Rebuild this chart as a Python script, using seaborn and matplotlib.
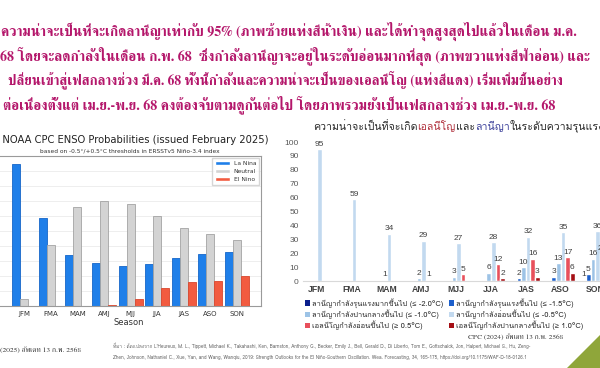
import numpy as np
import pandas as pd
import matplotlib
matplotlib.use("Agg")
import matplotlib.pyplot as plt
import seaborn as sns
from matplotlib import font_manager as fm
from matplotlib.ft2font import FT2Font
from matplotlib.patches import Polygon, Patch

# ---------------- data ----------------
seasons = ["JFM", "FMA", "MAM", "AMJ", "MJJ", "JJA", "JAS", "ASO", "SON"]

# left chart: official NOAA CPC ENSO probabilities (%)
noaa_categories = ["La Nina", "Neutral", "El Nino"]
noaa_la_nina = [95, 59, 34, 29, 27, 28, 32, 35, 36]
noaa_neutral = [5, 41, 66, 70, 68, 60, 52, 48, 44]
noaa_el_nino = [0, 0, 0, 1, 5, 12, 16, 17, 20]

# right chart: strength probabilities (%)
strength_labels = [
    "ลานีญากำลังรุนแรงมากขึ้นไป (≤ -2.0°C)",
    "ลานีญากำลังรุนแรงขึ้นไป (≤ -1.5°C)",
    "ลานีญากำลังปานกลางขึ้นไป (≤ -1.0°C)",
    "ลานีญากำลังอ่อนขึ้นไป (≤ -0.5°C)",
    "เอลนีโญกำลังอ่อนขึ้นไป (≥ 0.5°C)",
    "เอลนีโญกำลังปานกลางขึ้นไป (≥ 1.0°C)",
]
lanina_very_strong = [0, 0, 0, 0, 0, 0, 0, 0, 1]
lanina_strong = [0, 0, 0, 0, 0, 0.4, 2, 3, 5]
lanina_moderate = [0, 0, 1, 2, 3, 6, 10, 13, 16]
lanina_weak = [95, 59, 34, 29, 27, 28, 32, 35, 36]
elnino_weak = [0, 0, 0, 1, 5, 12, 16, 17, 20]
elnino_moderate = [0, 0, 0, 0, 0, 2, 3, 6, 8]

yticks_right = [0, 10, 20, 30, 40, 50, 60, 70, 80, 90, 100]

top_lines = [
    "ความน่าจะเป็นที่จะเกิดลานีญาเท่ากับ 95% (ภาพซ้ายแท่งสีน้ำเงิน) และได้ทำจุดสูงสุดไปแล้วในเดือน ม.ค.",
    "68 โดยจะลดกำลังในเดือน ก.พ. 68  ซึ่งกำลังลานีญาจะอยู่ในระดับอ่อนมากที่สุด (ภาพขวาแท่งสีฟ้าอ่อน) และ",
    "ปลี่ยนเข้าสู่เฟสกลางช่วง มี.ค. 68 ทั้งนี้กำลังและความน่าจะเป็นของเอลนีโญ (แท่งสีแดง) เริ่มเพิ่มขึ้นอย่าง",
    "ต่อเนื่องตั้งแต่ เม.ย.-พ.ย. 68 คงต้องจับตามดูกันต่อไป โดยภาพรวมยังเป็นเฟสกลางช่วง เม.ย.-พ.ย. 68",
]

# ---------------- fonts ----------------
def thai_families():
    names = []
    for f in fm.fontManager.ttflist:
        if f.name in names:
            continue
        try:
            if 0x0E01 in FT2Font(f.fname).get_charmap():
                names.append(f.name)
        except Exception:
            pass
    return names

thai = thai_families()
serif_pick = next((n for n in thai if "Serif" in n or n in ("Norasi", "Kinnari", "Laksaman")),
                  thai[0] if thai else "DejaVu Serif")
sans_pick = next((n for n in thai if "Sans" in n or n in ("Loma", "Garuda", "Waree", "Umpush")),
                 thai[0] if thai else "DejaVu Sans")
THAI_SERIF = [serif_pick, "DejaVu Serif"]
THAI_SANS = [sans_pick, "Liberation Sans", "DejaVu Sans"]

sns.set_theme(style="white")
plt.rcParams["font.family"] = ["DejaVu Sans"]

W, H = 600, 368
fig = plt.figure(figsize=(6, 3.68), dpi=100)
fig.patch.set_facecolor("white")
renderer = fig.canvas.get_renderer()

def fx(x):
    return x / W

def fy(y):
    return 1 - y / H

# ---------------- top paragraph ----------------
top_x = [1, 0, 8, 3]
top_y = [31, 56, 80, 105]
top_end = [575, 590, 565, 553]
for txt, x, y, xe in zip(top_lines, top_x, top_y, top_end):
    t = fig.text(fx(x), fy(y), txt, ha="left", va="center", fontsize=10,
                 fontweight="bold", color="#B4176B", family=THAI_SERIF)
    w = t.get_window_extent(renderer=renderer).width
    t.set_fontsize(min(11, 10 * (xe - x) / w))

# ---------------- left chart ----------------
dfL = pd.DataFrame({
    "season": seasons * 3,
    "category": [c for c in noaa_categories for _ in seasons],
    "prob": noaa_la_nina + noaa_neutral + noaa_el_nino,
})
pal_left = {"La Nina": "#1F7FE9", "Neutral": "#D3D3D3", "El Nino": "#F25B40"}
edge_left = ["#1666C8", "#A3A3A3", "#D9472E"]

ax1 = fig.add_axes([fx(-2.6), fy(306), (261 + 2.6) / W, (306 - 156) / H])
sns.barplot(data=dfL, x="season", y="prob", hue="category", palette=pal_left,
            hue_order=noaa_categories, order=seasons, width=0.9, saturation=1,
            ax=ax1)
for cont, ec in zip(ax1.containers, edge_left):
    for p in cont:
        p.set_edgecolor(ec)
        p.set_linewidth(0.6)
ax1.set_xlim(-1.0, 8.9)
ax1.set_ylim(0, 100)
ax1.set_yticks(range(0, 101, 10))
ax1.yaxis.grid(True, color="#EBEBEB", lw=0.6)
ax1.set_axisbelow(True)
ax1.tick_params(axis="y", left=False, labelleft=False)
ax1.tick_params(axis="x", labelsize=5, colors="#333333", length=2, pad=1.5, width=0.5)
ax1.set_xlabel("Season", fontsize=6, color="#333333", labelpad=0.5)
ax1.set_ylabel("")
for s in ax1.spines.values():
    s.set_color("#9A9A9A")
    s.set_linewidth(0.8)
leg1 = ax1.legend(loc="upper right", fontsize=4.3, frameon=True, fancybox=False,
                  edgecolor="#CCCCCC", handlelength=2.6, handleheight=0.7,
                  borderpad=0.5, labelspacing=0.45, handletextpad=0.6,
                  borderaxespad=0.3)
for t in leg1.get_texts():
    t.set_color("#333333")

fig.text(fx(268), fy(140), "Official NOAA CPC ENSO Probabilities (issued February 2025)",
         ha="right", va="center", fontsize=7.2, color="#222222")
fig.text(fx(130), fy(150.5), "based on -0.5°/+0.5°C thresholds in ERSSTv5 Niño-3.4 index",
         ha="center", va="center", fontsize=4.2, color="#333333")

# ---------------- right chart ----------------
right_series = [lanina_very_strong, lanina_strong, lanina_moderate,
                lanina_weak, elnino_weak, elnino_moderate]
dfR = pd.DataFrame({
    "season": seasons * 6,
    "level": [lab for lab in strength_labels for _ in seasons],
    "value": sum(right_series, []),
})
right_colors = ["#0B1F8C", "#1C5FCC", "#9DC3E6", "#C2D9EF", "#E8505C", "#A50F15"]
pal_right = dict(zip(strength_labels, right_colors))

ax2 = fig.add_axes([fx(303), fy(281), (616 - 303) / W, (281 - 142) / H])
sns.barplot(data=dfR, x="season", y="value", hue="level", palette=pal_right,
            hue_order=strength_labels, order=seasons, width=0.8, saturation=1,
            legend=False, ax=ax2)
ax2.set_xlim(-0.40, 8.59)
ax2.set_ylim(0, 100)
ax2.set_yticks(yticks_right)
ax2.tick_params(axis="y", labelsize=6, colors="#595959", length=0, pad=3)
ax2.tick_params(axis="x", labelsize=6.2, colors="#404040", length=0, pad=3)
for lab in ax2.get_xticklabels():
    lab.set_fontweight("bold")
    lab.set_family(["Liberation Sans", "DejaVu Sans"])
for lab in ax2.get_yticklabels():
    lab.set_family(["Liberation Sans", "DejaVu Sans"])
ax2.set_xlabel("")
ax2.set_ylabel("")
for k in ["left", "right", "top"]:
    ax2.spines[k].set_visible(False)
ax2.spines["bottom"].set_color("#D9D9D9")
ax2.spines["bottom"].set_linewidth(0.8)
for cont, vals in zip(ax2.containers, right_series):
    labels = [f"{v:.0f}" if v >= 0.5 else "" for v in vals]
    ax2.bar_label(cont, labels=labels, padding=1, fontsize=6, color="#404040",
                  family=["Liberation Sans", "DejaVu Sans"])

handles = [Patch(facecolor=c, edgecolor="none") for c in right_colors]
order = [0, 2, 4, 1, 3, 5]
leg2 = fig.legend([handles[i] for i in order], [strength_labels[i] for i in order],
                  loc="upper left", bbox_to_anchor=(fx(305), fy(298)), ncol=2,
                  frameon=False, handlelength=0.7, handleheight=0.7,
                  handletextpad=0.3, columnspacing=0.7, labelspacing=0.2,
                  borderpad=0, borderaxespad=0, prop={"family": THAI_SANS, "size": 5.4})
for t in leg2.get_texts():
    t.set_color("#262626")

# right chart title with coloured words
title_parts = [("ความน่าจะเป็นที่จะเกิด", "#262626"), ("เอลนีโญ", "#B0303C"),
               ("และ", "#262626"), ("ลานีญา", "#3A3F9A"),
               ("ในระดับความรุนแรงต่างๆ", "#262626")]
xcur = fx(313)
for txt, col in title_parts:
    t = fig.text(xcur, fy(130), txt, ha="left", va="baseline", fontsize=7.6,
                 color=col, family=THAI_SANS)
    bb = t.get_window_extent(renderer=renderer)
    xcur = bb.x1 / fig.bbox.width

# ---------------- footer ----------------
fig.text(fx(0), fy(350), "(2025) อัพเดท 13 ก.พ. 2568", ha="left", va="center",
         fontsize=5.4, color="#333333", family=THAI_SERIF)
fig.text(fx(468), fy(336.5), "CPC (2024) อัพเดท 13 ก.พ. 2568", ha="left", va="center",
         fontsize=5.2, color="#333333", family=THAI_SERIF)
fig.text(fx(113), fy(346),
         "ที่มา : ดัดแปลงจาก L'Heureux, M. L., Tippett, Michael K., Takahashi, Ken, Barnston, Anthony G., "
         "Becker, Emily J., Bell, Gerald D., Di Liberto, Tom E., Gottschalck, Jon, Halpert, Michael S., Hu, Zeng-",
         ha="left", va="center", fontsize=3.4, color="#666666", family=THAI_SANS)
fig.text(fx(113), fy(358),
         "Zhen, Johnson, Nathaniel C., Xue, Yan, and Wang, Wanqiu, 2019: Strength Outlooks for the El Niño-Southern "
         "Oscillation. Wea. Forecasting, 34, 165-175, https://doi.org/10.1175/WAF-D-18-0126.1",
         ha="left", va="center", fontsize=3.4, color="#666666", family=THAI_SANS)

tri = Polygon([(fx(567), fy(368)), (fx(600), fy(335)), (fx(600), fy(368))],
              closed=True, transform=fig.transFigure, facecolor="#8FA63A",
              edgecolor="none")
fig.patches.append(tri)

fig.savefig("out.png", dpi=100)
